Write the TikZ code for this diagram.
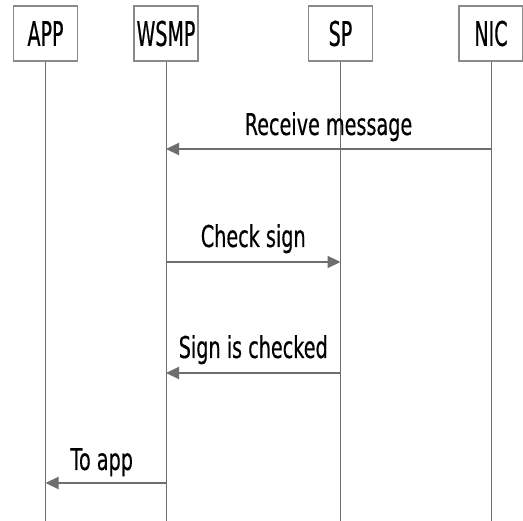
\documentclass[tikz,border=0pt]{standalone}
\usepackage{fontspec}
\newfontfamily\boxfont[FakeStretch=0.56,FakeBold=0.4]{DejaVu Sans}
\newfontfamily\msgfont[FakeStretch=0.64,FakeBold=0.4]{DejaVu Sans}
\usetikzlibrary{arrows.meta,calc}
\definecolor{linegray}{HTML}{6E6E6E}
\definecolor{boxgray}{HTML}{8A8A8A}
\begin{document}
\begin{tikzpicture}[x=1pt,y=-1pt,
  actor/.style={draw=boxgray,line width=1.5pt,fill=white,minimum width=64pt,minimum height=55pt,inner sep=0pt,
    font=\boxfont\fontsize{34}{34}\selectfont,text=black},
  lifeline/.style={draw=linegray,line width=1pt},
  msg/.style={draw=linegray,line width=2.2pt,-{Triangle[length=13pt,width=12pt]}},
  msglabel/.style={anchor=base,inner sep=0pt,font=\msgfont\fontsize{30}{30}\selectfont,text=black}]
\useasboundingbox (0,0) rectangle (523,521);
\node[actor] (app) at (45.5,33.5) {APP};
\node[actor] (wsmp) at (166,33.5) {WSMP};
\node[actor] (sp) at (340.5,33.5) {SP};
\node[actor] (nic) at (491,33.5) {NIC};
\foreach \n in {app,wsmp,sp,nic}{
  \coordinate (\n-end) at (\n.south |- 0,521);
  \draw[lifeline] (\n.south) -- (\n-end);
}
% message endpoints
\coordinate (m1a) at (nic.south |- 0,149);
\coordinate (m1b) at (wsmp.south |- 0,149);
\coordinate (m2a) at (wsmp.south |- 0,262);
\coordinate (m2b) at (sp.south |- 0,262);
\coordinate (m3a) at (sp.south |- 0,373);
\coordinate (m3b) at (wsmp.south |- 0,373);
\coordinate (m4a) at (wsmp.south |- 0,483);
\coordinate (m4b) at (app.south |- 0,483);
\draw[msg] (m1a) -- (m1b);
\draw[msg] (m2a) -- (m2b);
\draw[msg] (m3a) -- (m3b);
\draw[msg] (m4a) -- (m4b);
\node[msglabel] (l1) at ($(m1a)!0.5!(m1b)+(0,-14)$) {Receive message};
\node[msglabel] (l2) at ($(m2a)!0.5!(m2b)+(0,-15)$) {Check sign};
\node[msglabel] (l3) at ($(m3a)!0.5!(m3b)+(0,-15)$) {Sign is checked};
\node[msglabel] (l4) at ($(m4a)!0.5!(m4b)+(-4,-13)$) {To app};
\end{tikzpicture}
\end{document}
